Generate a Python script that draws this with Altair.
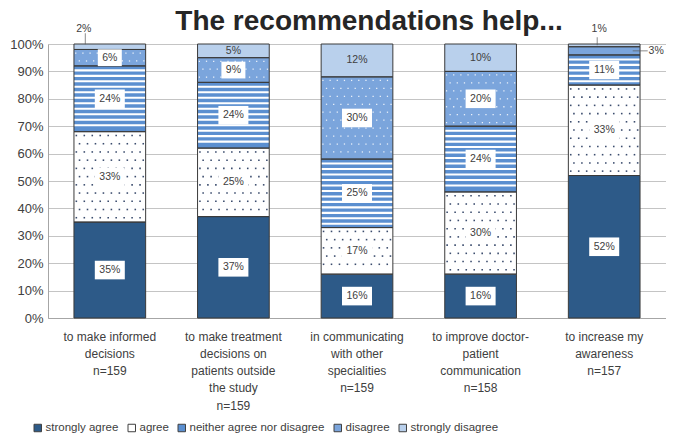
import altair as alt
import pandas as pd

# ---------------- data ----------------
title_text = "The recommendations help..."
categories = [
    "to make informed|decisions|n=159",
    "to make treatment|decisions on|patients outside|the study|n=159",
    "in communicating|with other|specialities|n=159",
    "to improve doctor-|patient|communication|n=158",
    "to increase my|awareness|n=157",
]
responses = ["strongly agree", "agree", "neither agree nor disagree", "disagree", "strongly disagree"]
strongly_agree = [35, 37, 16, 16, 52]
agree = [33, 25, 17, 30, 33]
neither = [24, 24, 25, 24, 11]
disagree = [6, 9, 30, 20, 3]
strongly_disagree = [2, 5, 12, 10, 1]
y_ticks = [0, 10, 20, 30, 40, 50, 60, 70, 80, 90, 100]

colors = ["#2D5A88", "#FFFFFF", "#5B8FD0", "#7BA5DC", "#B9D0EC"]
TEXT = "#404040"
FONT = "Liberation Sans"

series = [strongly_agree, agree, neither, disagree, strongly_disagree]
P_IN, P_OUT = 0.42, 0.21

rows = []
for ci, cat in enumerate(categories):
    base = 0
    for ri, resp in enumerate(responses):
        v = series[ri][ci]
        if resp == "strongly disagree":
            kind = "plain" if v >= 5 else "above"
        else:
            kind = "box" if v >= 5 else "side"
        rows.append(dict(cat=cat, ci=ci, resp=resp, order=ri, value=v,
                         y0=base / 100, y1=(base + v) / 100, mid=(base + v / 2) / 100,
                         label=f"{v}%", kind=kind, nchar=len(f"{v}%")))
        base += v
df = pd.DataFrame(rows)

# pattern decorations derived from the segments (in fractions of 100 %)
stripes, dots_a, dots_d = [], [], []
for r in rows:
    left = r["ci"] + P_OUT
    bw = 1 - P_IN
    y0, y1 = r["y0"] * 100, r["y1"] * 100
    if r["resp"] == "neither agree nor disagree":
        k = 0
        while True:
            top = y1 - 1.25 - k * 2.0
            bot = top - 0.75
            if bot <= y0 + 0.2:
                break
            stripes.append(dict(cat=r["cat"], s0=bot / 100, s1=top / 100))
            k += 1
    if r["resp"] == "agree":
        i = 0
        while True:
            yy = y1 - 1.4 - i * 3.0
            if yy <= y0 + 0.6:
                break
            for j in range(9):
                dots_a.append(dict(qx=left + bw * (j + 0.3 + 0.4 * (i % 2)) / 9, dy=yy / 100))
            i += 1
    if r["resp"] == "disagree" and r["value"] >= 5:
        i = 0
        while True:
            yy = y1 - 1.3 - i * 2.9
            if yy <= y0 + 0.6:
                break
            for j in range(10):
                dots_d.append(dict(qx=left + bw * (j + 0.25 + 0.5 * (i % 2)) / 10, dy=yy / 100))
            i += 1
df_s = pd.DataFrame(stripes)
df_a = pd.DataFrame(dots_a)
df_d = pd.DataFrame(dots_d)
df_t = pd.DataFrame({"t": [title_text]})

xscale = alt.Scale(domain=categories, paddingInner=P_IN, paddingOuter=P_OUT)
qscale = alt.Scale(domain=[0, len(categories)], nice=False, zero=False)
yscale = alt.Scale(domain=[0, 1], nice=False, zero=False)

x_main = alt.X(
    "cat:N", sort=categories, scale=xscale,
    axis=alt.Axis(title=None, labelExpr="split(datum.label, '|')", labelAngle=0,
                  ticks=False, labelPadding=13, labelFontSize=12, labelFont=FONT,
                  labelLineHeight=17.3, labelColor=TEXT, domainColor="#A6A6A6",
                  labelLimit=200),
)
x_plain = alt.X("cat:N", sort=categories, scale=xscale, axis=None)

bars = alt.Chart(df).mark_bar().encode(
    x=x_main,
    y=alt.Y("y0:Q", scale=yscale,
            axis=alt.Axis(values=[t / 100 for t in y_ticks], format=".0%", title=None,
                          ticks=False, labelPadding=5, labelFontSize=13, labelFont=FONT,
                          labelColor=TEXT, grid=True, gridColor="#C4C4C4",
                          domainColor="#A6A6A6", orient="left")),
    y2="y1:Q",
    fill=alt.Fill("resp:N", scale=alt.Scale(domain=responses, range=colors),
                  legend=alt.Legend(orient="none", legendX=-16, legendY=378,
                                    direction="horizontal", title=None,
                                    symbolType="square", symbolSize=56,
                                    symbolStrokeColor="#404040", symbolStrokeWidth=1,
                                    labelFontSize=11.5, labelFont=FONT,
                                    labelColor=TEXT, columnPadding=7, labelOffset=2)),
    order="order:Q",
)

stripe_layer = alt.Chart(df_s).mark_bar(color="white").encode(
    x=x_plain, y=alt.Y("s0:Q", scale=yscale, axis=None), y2="s1:Q")

dots_a_layer = alt.Chart(df_a).mark_square(size=2.5, color="#3C4D6E", opacity=1).encode(
    x=alt.X("qx:Q", scale=qscale, axis=None),
    y=alt.Y("dy:Q", scale=yscale, axis=None))

dots_d_layer = alt.Chart(df_d).mark_square(size=1.6, color="white", opacity=0.85).encode(
    x=alt.X("qx:Q", scale=qscale, axis=None),
    y=alt.Y("dy:Q", scale=yscale, axis=None))

outline = alt.Chart(df).mark_bar(fillOpacity=0, stroke="#3A3A3A", strokeWidth=1).encode(
    x=x_plain, y=alt.Y("y0:Q", scale=yscale, axis=None), y2="y1:Q")

box3 = alt.Chart(df).transform_filter(
    "datum.kind == 'box' && datum.nchar == 3"
).mark_point(shape="M-1,-0.62H1V0.62H-1Z", size=900, filled=True, fill="white",
             opacity=1, strokeWidth=0).encode(
    x=x_plain, y=alt.Y("mid:Q", scale=yscale, axis=None))

box2 = alt.Chart(df).transform_filter(
    "datum.kind == 'box' && datum.nchar == 2"
).mark_point(shape="M-1,-0.7H1V0.7H-1Z", size=576, filled=True, fill="white",
             opacity=1, strokeWidth=0).encode(
    x=x_plain, y=alt.Y("mid:Q", scale=yscale, axis=None))

labels = alt.Chart(df).transform_filter(
    "datum.kind == 'box' || datum.kind == 'plain'"
).mark_text(fontSize=10.5, font=FONT, color=TEXT).encode(
    x=x_plain, y=alt.Y("mid:Q", scale=yscale, axis=None), text="label:N")

def outside(ci, resp, dx, dy):
    return alt.Chart(df).transform_filter(
        f"datum.ci == {ci} && datum.resp == '{resp}'"
    ).mark_text(fontSize=10.5, font=FONT, color=TEXT, dx=dx, dy=dy).encode(
        x=x_plain, y=alt.Y("mid:Q", scale=yscale, axis=None), text="label:N")

def leader(ci, resp, orient, length, xo, yo):
    return alt.Chart(df).transform_filter(
        f"datum.ci == {ci} && datum.resp == '{resp}'"
    ).mark_tick(orient=orient, size=length, thickness=1, color="#595959",
                xOffset=xo, yOffset=yo).encode(
        x=x_plain, y=alt.Y("mid:Q", scale=yscale, axis=None))

out1 = outside(0, "strongly disagree", -26, -18)
out5a = outside(4, "strongly disagree", -5, -16)
out5b = outside(4, "disagree", 52, 0)
lead1 = leader(0, "strongly disagree", "vertical", 11, -24.5, -8)
lead5a = leader(4, "strongly disagree", "vertical", 8, -7, -4)
lead5b = leader(4, "disagree", "horizontal", 15, 36, 0)

title_layer = alt.Chart(df_t).mark_text(
    fontSize=28, font=FONT, fontWeight="bold", color="#262626",
    align="center", baseline="alphabetic"
).encode(x=alt.value(321), y=alt.value(-14), text="t:N")

chart = alt.layer(
    bars, stripe_layer, dots_a_layer, dots_d_layer, outline, box3, box2, labels,
    out1, out5a, out5b, lead1, lead5a, lead5b, title_layer
).resolve_scale(x="independent", y="independent").properties(
    width=618, height=274,
    autosize=alt.AutoSizeParams(type="none"),
    padding={"left": 40, "top": 36, "right": 0, "bottom": 116},
).configure_view(strokeWidth=0).configure(background="white")

chart.save("out.html", embed_options={"renderer": "svg", "actions": False})
